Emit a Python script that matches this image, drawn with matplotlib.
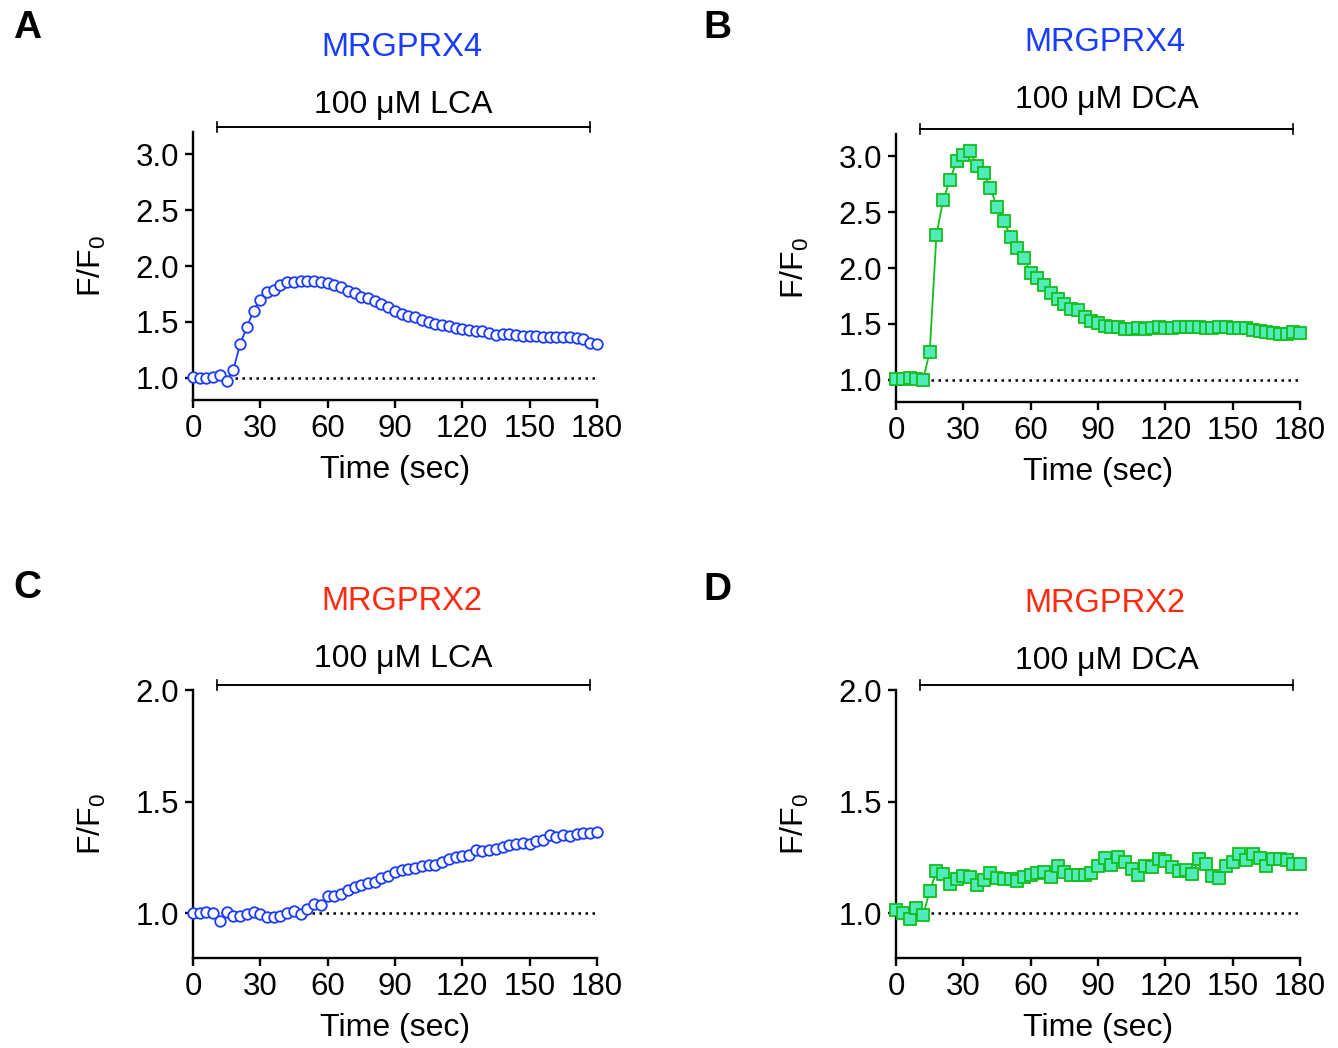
import numpy as np
import matplotlib
matplotlib.use("Agg")
import matplotlib.pyplot as plt

plt.rcParams['font.family'] = ['Liberation Sans', 'DejaVu Sans']

# --- datos: F/F0 cada 3 s (0-180 s) ---
time_sec = np.arange(0, 181, 3)

x4_lca = [1.006, 1.0, 1.0, 1.01, 1.02, 0.97, 1.07, 1.30, 1.45, 1.60,
          1.70, 1.765, 1.785, 1.83, 1.855, 1.86, 1.87, 1.87, 1.87, 1.86,
          1.845, 1.83, 1.81, 1.78, 1.76, 1.725, 1.71, 1.69, 1.66, 1.63,
          1.60, 1.57, 1.555, 1.54, 1.52, 1.50, 1.48, 1.47, 1.46, 1.445,
          1.44, 1.43, 1.415, 1.42, 1.40, 1.385, 1.39, 1.39, 1.38, 1.37,
          1.37, 1.37, 1.365, 1.365, 1.365, 1.36, 1.36, 1.355, 1.345, 1.315,
          1.30]

x4_dca = [1.006, 1.006, 1.018, 1.01, 0.995, 1.25, 2.30, 2.61, 2.79, 2.96,
          3.01, 3.05, 2.91, 2.85, 2.72, 2.545, 2.425, 2.28, 2.18, 2.09,
          1.955, 1.915, 1.845, 1.78, 1.72, 1.675, 1.63, 1.62, 1.56, 1.53,
          1.51, 1.485, 1.47, 1.47, 1.45, 1.455, 1.46, 1.45, 1.46, 1.47,
          1.46, 1.46, 1.47, 1.475, 1.475, 1.475, 1.465, 1.46, 1.47, 1.47,
          1.465, 1.46, 1.46, 1.445, 1.44, 1.43, 1.42, 1.41, 1.405, 1.43,
          1.42]

x2_lca = [1.0, 1.003, 1.006, 1.0, 0.967, 1.008, 0.99, 0.987, 0.997, 1.008,
          0.996, 0.984, 0.982, 0.987, 1.0, 1.012, 0.997, 1.021, 1.04, 1.037,
          1.077, 1.076, 1.085, 1.103, 1.12, 1.125, 1.134, 1.14, 1.156, 1.165,
          1.186, 1.195, 1.198, 1.205, 1.21, 1.216, 1.217, 1.228, 1.243, 1.253,
          1.256, 1.262, 1.284, 1.28, 1.284, 1.29, 1.295, 1.308, 1.31, 1.317,
          1.31, 1.325, 1.33, 1.35, 1.343, 1.35, 1.344, 1.356, 1.359, 1.359,
          1.363]

x2_dca = [1.015, 1.0, 0.975, 1.024, 0.992, 1.098, 1.188, 1.176, 1.133, 1.152,
          1.167, 1.164, 1.125, 1.149, 1.182, 1.158, 1.155, 1.152, 1.146, 1.161,
          1.173, 1.182, 1.184, 1.164, 1.211, 1.184, 1.173, 1.17, 1.173, 1.182,
          1.211, 1.247, 1.217, 1.253, 1.229, 1.2, 1.173, 1.213, 1.208, 1.244,
          1.235, 1.208, 1.188, 1.196, 1.176, 1.244, 1.22, 1.167, 1.158, 1.214,
          1.229, 1.265, 1.238, 1.265, 1.247, 1.211, 1.241, 1.244, 1.238, 1.22,
          1.22]

# --- estilos ---
BLUE = '#1a3cff'
RED = '#ff2a10'
GREEN_EDGE = '#14be1e'
GREEN_FILL = '#50ebb9'
FS = 23
FS_TICK = 22.5

fig = plt.figure(figsize=(13.38, 10.48), dpi=100)

panels = [
    # letra, rect, datos, receptor, color, tratamiento, ylim, yticks, pos. letra, y titulo, y texto
    ('A', [0.1442, 0.6183, 0.3019, 0.2557], x4_lca, 'MRGPRX4', BLUE, 'LCA',
     (0.8, 3.2), [1.0, 1.5, 2.0, 2.5, 3.0], (27, 28), 1.317, 1.10),
    ('B', [0.6697, 0.6164, 0.3019, 0.2557], x4_dca, 'MRGPRX4', BLUE, 'DCA',
     (0.8, 3.2), [1.0, 1.5, 2.0, 2.5, 3.0], (717, 28), 1.34, 1.127),
    ('C', [0.1442, 0.0859, 0.3019, 0.2557], x2_lca, 'MRGPRX2', RED, 'LCA',
     (0.8, 2.0), [1.0, 1.5, 2.0], (27, 588), 1.332, 1.116),
    ('D', [0.6697, 0.0859, 0.3019, 0.2557], x2_dca, 'MRGPRX2', RED, 'DCA',
     (0.8, 2.0), [1.0, 1.5, 2.0], (717, 590), 1.321, 1.108),
]

for letter, rect, vals, receptor, rcolor, drug, ylim, yticks, lpos, ytit, ytxt in panels:
    ax = fig.add_axes(rect)

    # línea base punteada
    ax.plot([0, 180], [1.0, 1.0], color='black', linestyle=(0, (1, 1.8)),
            linewidth=1.8, zorder=1)

    if drug == 'LCA':
        ax.plot(time_sec, vals, color=BLUE, linewidth=1.3, marker='o',
                markersize=7.6, markerfacecolor='white',
                markeredgecolor=BLUE, markeredgewidth=1.3, clip_on=False, zorder=3)
    else:
        ax.plot(time_sec, vals, color=GREEN_EDGE, linewidth=1.3, marker='s',
                markersize=8.6, markerfacecolor=GREEN_FILL,
                markeredgecolor=GREEN_EDGE, markeredgewidth=1.3, clip_on=False, zorder=3)

    ax.set_xlim(0, 180)
    ax.set_ylim(*ylim)
    ax.set_xticks(range(0, 181, 30))
    ax.set_yticks(yticks)
    ax.set_yticklabels([f'{v:.1f}' for v in yticks])

    for side in ['top', 'right']:
        ax.spines[side].set_visible(False)
    for side in ['left', 'bottom']:
        ax.spines[side].set_linewidth(1.7)

    ax.tick_params(axis='both', direction='out', length=6, width=1.7,
                   labelsize=FS_TICK, pad=4)
    ax.set_xlabel('Time (sec)', fontsize=FS, labelpad=8)
    ax.set_ylabel(r'$\mathregular{F/F_0}$', fontsize=FS, labelpad=20)

    # barra del tratamiento
    ax.plot([10.7, 177], [1.0187, 1.0187], color='black', linewidth=1.4,
            transform=ax.get_xaxis_transform(), clip_on=False)
    for xe in [10.7, 177]:
        ax.plot([xe, xe], [1.0, 1.037], color='black', linewidth=1.2,
                transform=ax.get_xaxis_transform(), clip_on=False)
    ax.text(93.8, ytxt, '100 μM ' + drug, fontsize=FS, ha='center', va='center',
            transform=ax.get_xaxis_transform())
    ax.text(93.0, ytit, receptor, fontsize=FS + 0.5, color=rcolor, ha='center', va='center',
            transform=ax.get_xaxis_transform())

    fig.text(lpos[0] / 1338, 1 - lpos[1] / 1048, letter, fontsize=28,
             fontweight='bold', ha='center', va='center')

fig.savefig('out.png', dpi=100)
